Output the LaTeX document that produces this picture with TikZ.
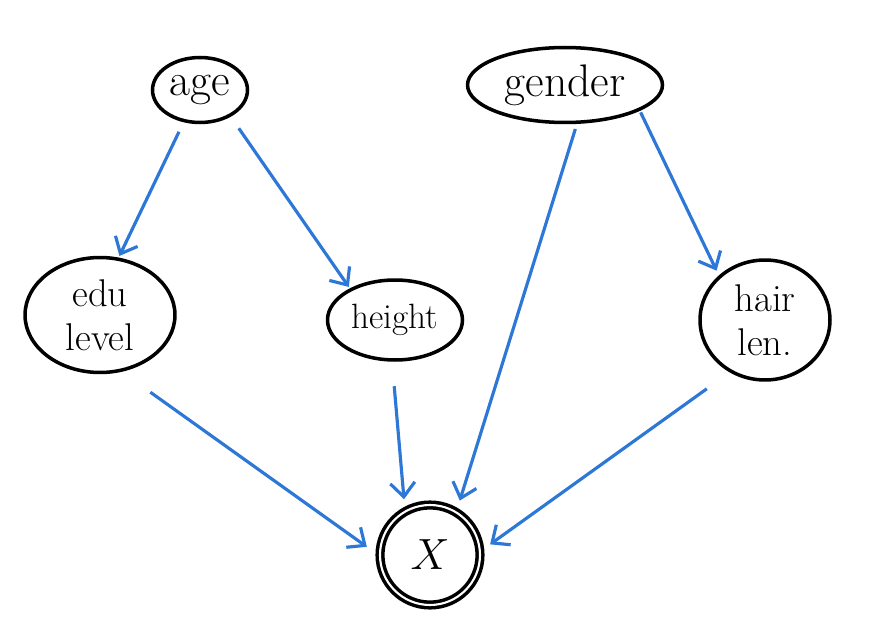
\documentclass[tikz,border=0pt]{standalone}
\usepackage{amssymb}
\usepackage{amsmath}
\usetikzlibrary{shapes.geometric,arrows.meta}
\definecolor{penblue}{RGB}{45,120,215}

\begin{document}
\begin{tikzpicture}[x=0.02cm,y=-0.02cm,
				main node/.style = {ellipse,draw,line width=2pt,inner sep=0pt,align=center,font=\fontsize{26}{28}\selectfont},
				arrow edge/.style = {draw=penblue,line width=1.8pt,shorten <=6pt,shorten >=6pt,-{Straight Barb[length=8pt,width=14pt]}}]
				
				\useasboundingbox (0,0) rectangle (869,625);
				
				\node[main node,minimum width=1.9cm,minimum height=1.3cm] at (200,90) (age) {age};
				\node[main node,minimum width=3.9cm,minimum height=1.5cm] at (565,85) (gender) {gender};
				\node[main node,minimum width=3.0cm,minimum height=2.3cm,font=\fontsize{22}{25}\selectfont] at (100,315) (edu) {edu\\level};
				\node[main node,minimum width=2.7cm,minimum height=1.6cm,font=\fontsize{20}{22}\selectfont] at (395,320) (height) {height};
				\node[main node,minimum width=2.6cm,minimum height=2.4cm,font=\fontsize{22}{25}\selectfont] at (765,320) (hair) {hair\\len.};
				\node[main node,circle,minimum size=2cm,double,double distance=1.2pt,font=\fontsize{34}{36}\selectfont] at (430,555) (x) {$X$};
				
				\draw[arrow edge,shorten >=1pt] (age.243) -- (edu.72);
				\draw[arrow edge,shorten <=8pt,shorten >=1pt] (age.-41) -- (height.145);
				\draw[arrow edge,shorten <=3pt] (gender.-73) -- (x.59);
				\draw[arrow edge,shorten <=1pt,shorten >=3pt] (gender.-19) -- (hair.136);
				\draw[arrow edge,shorten <=20pt,shorten >=8pt] (edu.-69) -- (x.180);
				\draw[arrow edge,shorten <=14pt] (height.266) -- (x.119);
				\draw[arrow edge,shorten <=16pt] (hair.236) -- (x.5);
				
\end{tikzpicture}
\end{document}
